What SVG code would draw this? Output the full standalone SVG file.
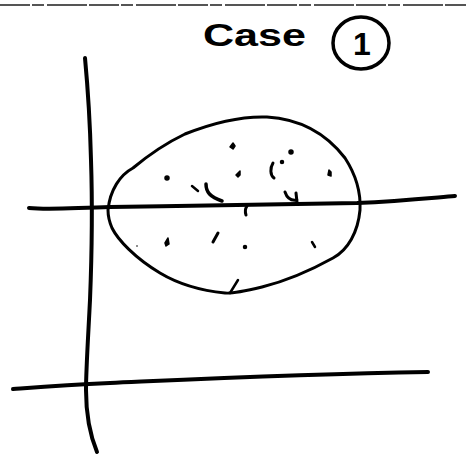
<svg xmlns="http://www.w3.org/2000/svg" width="466" height="465" viewBox="0 0 466 465">
<style>
.ink{fill:none;stroke:#000;stroke-linecap:round;stroke-linejoin:round}
.dot{fill:#000;stroke:#000;stroke-width:1.5;stroke-linejoin:round}
.hand{font-family:"Liberation Sans","DejaVu Sans",sans-serif;font-weight:bold;fill:#000}
</style>
<rect width="466" height="465" fill="#fff"/>
<line x1="0" y1="5" x2="466" y2="5" stroke="#555" stroke-width="2" stroke-dasharray="30 2 12 3 40 2"/>
<g id="title">
<text class="hand" x="203" y="46" font-size="32" textLength="103" lengthAdjust="spacingAndGlyphs">Case</text>
<ellipse class="ink" cx="361" cy="43" rx="28" ry="26" stroke-width="3.5"/>
<text class="hand" x="362" y="55" font-size="32" text-anchor="middle">1</text>
</g>
<g id="axes">
<path class="ink" stroke-width="4" d="M85,58 C88,90 90,120 91,160 C92,190 92,250 90,300 C88,340 86,370 86,390 C86,415 90,435 97,452"/>
<path class="ink" stroke-width="4" d="M29,208 C50,210 70,208 110,207 C200,206 300,204 357,203 C400,201 430,198 455,196"/>
<path class="ink" stroke-width="4" d="M13,389 C40,387 65,385 110,383 C200,379 300,374 428,372"/>
</g>
<g id="blob">
<path class="ink" stroke-width="3" d="M108,210 C110,190 120,175 133,168 C145,158 160,146 185,134 C210,124 240,116 267,117 C300,119 325,132 345,158 C356,175 361,192 360,210 C358,232 348,250 333,258 C315,268 290,280 262,287 C245,291 232,294 225,293 C205,291 180,285 160,273 C135,258 118,240 112,228 C109,221 108,215 108,210 Z"/>
<path class="ink" stroke-width="2.5" d="M230,293 L238,280"/>
</g>
<g id="marks">
<path class="dot" d="M233,143 L230,147 L233,149 L235,146 Z"/>
<circle class="dot" cx="291" cy="152" r="2"/>
<circle class="dot" cx="282" cy="162" r="1.5"/>
<path class="ink" stroke-width="3" d="M273,163 C270,168 270,175 274,178"/>
<path class="dot" d="M329,170 L328,175 L331,176 L331,172 Z"/>
<path class="dot" d="M240,171 L236,175 L238,177 L240,175 Z"/>
<circle class="dot" cx="167" cy="178" r="2"/>
<path class="ink" stroke-width="2.5" d="M192,186 L198,191"/>
<path class="ink" stroke-width="3.5" d="M206,184 C206,192 210,197 222,201"/>
<path class="ink" stroke-width="3" d="M285,192 C287,198 291,201 297,200 M296,193 L297,202"/>
<path class="ink" stroke-width="3" d="M247,206 C245,209 245,212 246,215"/>
<path class="dot" d="M168,238 L165,243 L166,246 L169,244 Z"/>
<path class="ink" stroke-width="3" d="M218,233 L213,242"/>
<circle class="dot" cx="245" cy="247" r="1.5"/>
<path class="ink" stroke-width="2.5" d="M312,242 L315,247"/>
<circle cx="137" cy="246" r="0.8" fill="#000"/>
</g>
</svg>
